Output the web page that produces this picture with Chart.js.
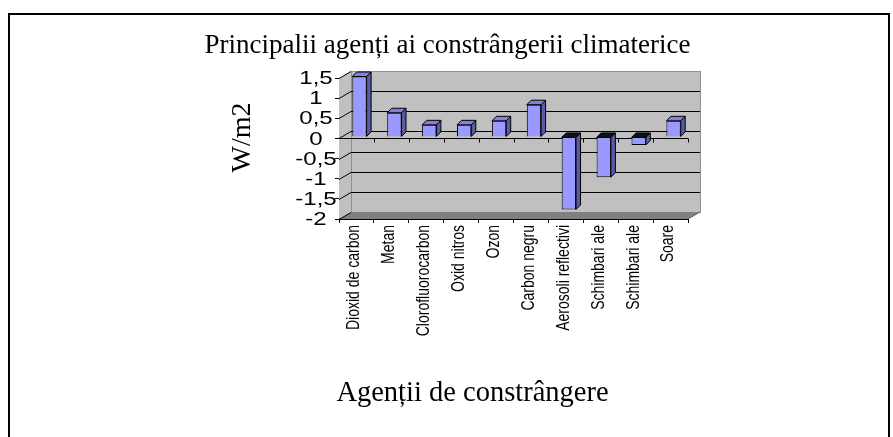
<!DOCTYPE html>
<html><head><meta charset="utf-8">
<script src="https://cdn.jsdelivr.net/npm/chart.js@4.4.1/dist/chart.umd.min.js"></script>
<style>html,body{margin:0;padding:0;background:#fff;}canvas{display:block;}</style>
</head><body>
<canvas id="c" width="893" height="437"></canvas>
<script>
const categories = ["Dioxid de carbon","Metan","Clorofluorocarbon","Oxid nitros","Ozon","Carbon negru","Aerosoli reflectivi","Schimbari ale","Schimbari ale","Soare"];
const forcingValues = [1.5, 0.6, 0.3, 0.3, 0.4, 0.8, -1.8, -1.0, -0.2, 0.4];
const yTickValues = [-2, -1.5, -1, -0.5, 0, 0.5, 1, 1.5];
const yTickLabels = ["-2", "-1,5", "-1", "-0,5", "0", "0,5", "1", "1,5"];
const chartTitle = "Principalii agenți ai constrângerii climaterice";
const yAxisTitle = "W/m2";
const xAxisTitle = "Agenții de constrângere";

const SERIF = '"Liberation Serif", "Times New Roman", serif';
const SANS = '"Liberation Sans", Arial, sans-serif';
const WALL_DX = 12, WALL_DY = 7, BAR_D = 4.5, BAR_SX = 3, BAR_SY = -1.5;

function poly(ctx, pts) {
  ctx.beginPath();
  ctx.moveTo(pts[0][0], pts[0][1]);
  for (let i = 1; i < pts.length; i++) ctx.lineTo(pts[i][0], pts[i][1]);
  ctx.closePath();
}
function line(ctx, x1, y1, x2, y2) {
  ctx.beginPath(); ctx.moveTo(x1, y1); ctx.lineTo(x2, y2); ctx.stroke();
}

const threeD = {
  id: 'threeD',
  beforeDraw(chart) {
    const ctx = chart.ctx;
    ctx.save();
    ctx.fillStyle = '#fff';
    ctx.fillRect(0, 0, chart.width, chart.height);
    ctx.strokeStyle = '#000';
    ctx.lineWidth = 2;
    ctx.strokeRect(9, 14, 880, 600);
    ctx.restore();
  },
  beforeDatasetsDraw(chart) {
    const {ctx, chartArea: a, scales: {x, y}} = chart;
    const L = a.left, R = a.right, T = a.top, B = a.bottom;
    const dx = WALL_DX, dy = WALL_DY;
    ctx.save();
    ctx.lineWidth = 1;
    ctx.fillStyle = '#c0c0c0';
    poly(ctx, [[L, T], [L + dx, T - dy], [L + dx, B - dy], [L, B]]);
    ctx.fill();
    ctx.fillRect(L + dx, T - dy, R - L, B - T);
    ctx.strokeStyle = '#909090';
    ctx.strokeRect(L + dx + 0.5, T - dy + 0.5, R - L, B - T);
    ctx.fillStyle = '#808080';
    poly(ctx, [[L, B], [L + dx, B - dy], [R + dx, B - dy], [R, B]]);
    ctx.fill();
    ctx.strokeStyle = '#606060';
    line(ctx, R, B, R + dx, B - dy);
    ctx.strokeStyle = '#000';
    yTickValues.forEach(v => {
      const yy = Math.round(y.getPixelForValue(v)) + 0.5;
      if (v > yTickValues[0] && v < yTickValues[yTickValues.length - 1]) {
        line(ctx, L + dx, yy - dy, R + dx, yy - dy);
      }
      line(ctx, L, yy, L + dx, yy - dy);
    });
    // front zero line with category ticks
    const y0 = Math.round(y.getPixelForValue(0)) + 0.5;
    line(ctx, L, y0, R, y0);
    for (let i = 1; i <= categories.length; i++) {
      const xb = Math.round(x.getPixelForValue(i - 0.5)) + 0.5;
      line(ctx, xb, y0, xb, y0 + 4);
    }
    ctx.restore();
  },
  beforeDatasetDraw(chart) {
    chart.ctx.save();
    chart.ctx.translate(BAR_SX, BAR_SY);
  },
  afterDatasetDraw(chart) {
    chart.ctx.restore();
  },
  afterDatasetsDraw(chart) {
    const ctx = chart.ctx;
    const meta = chart.getDatasetMeta(0);
    ctx.save();
    ctx.translate(BAR_SX, BAR_SY);
    ctx.lineWidth = 1;
    ctx.strokeStyle = '#000';
    ctx.lineJoin = 'round';
    meta.data.forEach((bar, i) => {
      const p = bar.getProps(['x', 'y', 'base', 'width'], true);
      const l = p.x - p.width / 2, r = p.x + p.width / 2;
      const top = Math.min(p.y, p.base), bot = Math.max(p.y, p.base);
      const d = BAR_D;
      ctx.fillStyle = '#5a5aa6';
      poly(ctx, [[r, top], [r + d, top - d], [r + d, bot - d], [r, bot]]);
      ctx.fill(); ctx.stroke();
      ctx.fillStyle = forcingValues[i] >= 0 ? '#8080dd' : '#101018';
      poly(ctx, [[l, top], [l + d, top - d], [r + d, top - d], [r, top]]);
      ctx.fill(); ctx.stroke();
    });
    ctx.restore();
  },
  afterDraw(chart) {
    const {ctx, scales: {x, y}} = chart;
    ctx.save();
    ctx.fillStyle = '#000';
    // y tick labels (wide Arial look)
    ctx.font = '18.5px ' + SANS;
    ctx.textAlign = 'center';
    ctx.textBaseline = 'middle';
    yTickValues.forEach((v, i) => {
      ctx.save();
      ctx.translate(316, y.getPixelForValue(v) + 1);
      ctx.scale(1.3, 1);
      ctx.fillText(yTickLabels[i], 0, 0);
      ctx.restore();
    });
    // category labels, rotated
    ctx.font = '14px ' + SANS;
    ctx.textAlign = 'right';
    ctx.textBaseline = 'middle';
    categories.forEach((c, i) => {
      ctx.save();
      ctx.translate(x.getPixelForTick(i) - 2, x.top + 6);
      ctx.rotate(-Math.PI / 2);
      ctx.scale(1, 1.28);
      ctx.fillText(c, 0, 0);
      ctx.restore();
    });
    // titles
    ctx.font = '27px ' + SERIF;
    ctx.textAlign = 'center';
    ctx.textBaseline = 'alphabetic';
    ctx.fillText(chartTitle, 447.5, 53);
    ctx.font = '28.5px ' + SERIF;
    ctx.fillText(xAxisTitle, 472.5, 401);
    ctx.translate(250, 137.5);
    ctx.rotate(-Math.PI / 2);
    ctx.font = '28px ' + SERIF;
    ctx.fillText(yAxisTitle, 0, 0);
    ctx.restore();
  }
};

new Chart(document.getElementById('c'), {
  type: 'bar',
  data: {
    labels: categories,
    datasets: [{
      data: forcingValues,
      backgroundColor: '#9999ff',
      borderColor: '#000',
      borderWidth: 1,
      barPercentage: 0.41,
      categoryPercentage: 1,
      clip: false
    }]
  },
  options: {
    responsive: false,
    animation: false,
    devicePixelRatio: 1,
    layout: {padding: {left: 200, right: 205, top: 78, bottom: 68}},
    plugins: {legend: {display: false}, title: {display: false}, tooltip: {enabled: false}},
    scales: {
      x: {
        offset: true,
        grid: {drawOnChartArea: false, tickLength: 4, color: '#000', offset: true},
        border: {display: true, color: '#000', width: 1},
        ticks: {display: false, autoSkip: false},
        afterFit(s) { s.height = 150; }
      },
      y: {
        min: -2, max: 1.5,
        afterBuildTicks(s) { s.ticks = yTickValues.map(v => ({value: v})); },
        grid: {drawOnChartArea: false, tickLength: 4, color: '#000'},
        border: {display: true, color: '#000', width: 1},
        ticks: {display: false, autoSkip: false},
        afterFit(s) { s.width = 139; }
      }
    }
  },
  plugins: [threeD]
});
</script>
</body></html>
